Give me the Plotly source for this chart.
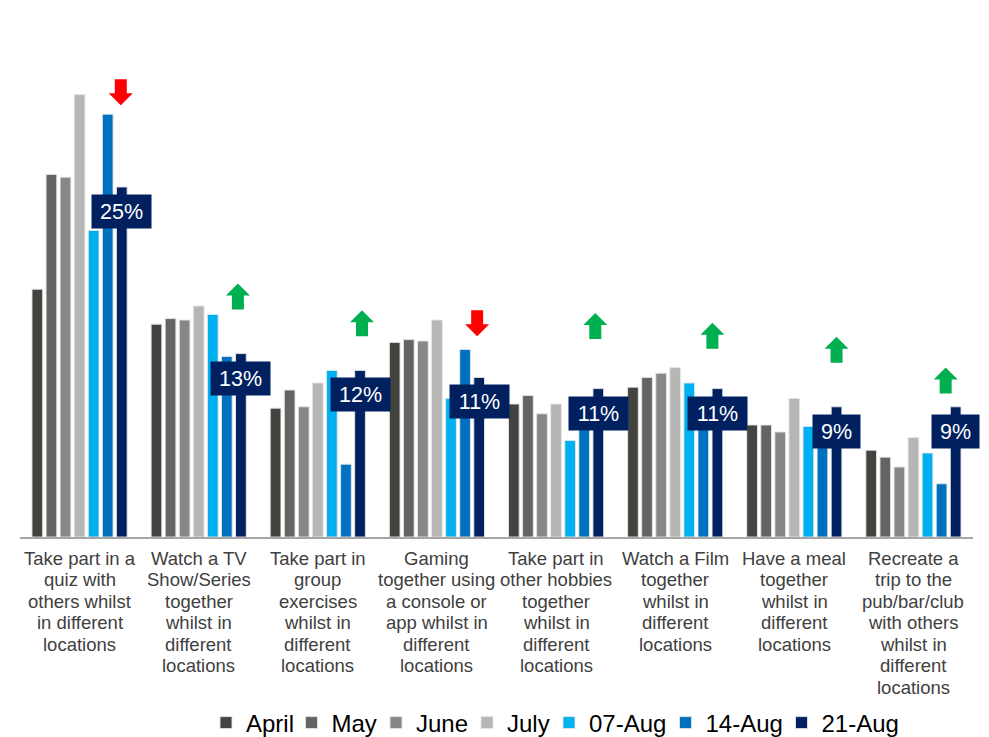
import plotly.graph_objects as go

categories = [
    "Take part in a quiz with others whilst in different locations",
    "Watch a TV Show/Series together whilst in different locations",
    "Take part in group exercises whilst in different locations",
    "Gaming together using a console or app whilst in different locations",
    "Take part in other hobbies together whilst in different locations",
    "Watch a Film together whilst in different locations",
    "Have a meal together whilst in different locations",
    "Recreate a trip to the pub/bar/club with others whilst in different locations",
]
tick_labels = [
    ["Take part in a", "quiz with", "others whilst", "in different", "locations"],
    ["Watch a TV", "Show/Series", "together", "whilst in", "different", "locations"],
    ["Take part in", "group", "exercises", "whilst in", "different", "locations"],
    ["Gaming", "together using", "a console or", "app whilst in", "different", "locations"],
    ["Take part in", "other hobbies", "together", "whilst in", "different", "locations"],
    ["Watch a Film", "together", "whilst in", "different", "locations"],
    ["Have a meal", "together", "whilst in", "different", "locations"],
    ["Recreate a", "trip to the", "pub/bar/club", "with others", "whilst in", "different", "locations"],
]
series_names = ["April", "May", "June", "July", "07-Aug", "14-Aug", "21-Aug"]
april = [17.7, 15.2, 9.2, 13.9, 9.5, 10.7, 8.0, 6.2]
may = [25.9, 15.6, 10.5, 14.1, 10.1, 11.4, 8.0, 5.7]
june = [25.7, 15.5, 9.3, 14.0, 8.8, 11.7, 7.5, 5.0]
july = [31.6, 16.5, 11.0, 15.5, 9.5, 12.1, 9.9, 7.1]
aug07 = [21.9, 15.9, 11.9, 9.9, 6.9, 11.0, 7.9, 6.0]
aug14 = [30.2, 12.9, 5.2, 13.4, 9.0, 9.5, 8.5, 3.8]
aug21 = [25.0, 13.1, 11.9, 11.4, 10.6, 10.6, 9.3, 9.3]
trend = ["down", "up", "up", "down", "up", "up", "up", "up"]
arrow_top = [32.7, 18.1, 16.2, 16.2, 16.0, 15.3, 14.3, 12.1]

series_values = [april, may, june, july, aug07, aug14, aug21]
colors = ["#434440", "#646464", "#878787", "#B6B6B6", "#00B0F0", "#0070C0", "#002060"]

W, H = 989, 737
ML, MR, MT, MB = 20, 16, 47, 200
PW = W - ML - MR
PH = H - MT - MB

BARGAP = 0.173
BARGROUPGAP = 0.24
FONT = "Liberation Sans, Arial, sans-serif"

# legend square centres (px) for each series, one small legend per series
legend_px = [226, 311.5, 396, 487, 569, 685.5, 801.5]
legend_center_y = 723

fig = go.Figure()
for k, (name, vals, col) in enumerate(zip(series_names, series_values, colors)):
    lg = "legend" if k == 0 else f"legend{k + 1}"
    fig.add_trace(go.Bar(
        x=categories, y=vals, name=name, legend=lg,
        marker=dict(color=col, line=dict(color="rgba(230,230,230,0.9)", width=1)),
    ))

n = len(series_values)
slot = (1 - BARGAP) / n
last_off = -(1 - BARGAP) / 2 + slot * (n - 0.5)

annotations = []
shapes = []
arrow_shift = [-1, -3, 2, -2, -3, -5, 0, -10]
for i, v in enumerate(aug21):
    txt = f"{round(v)}%"
    annotations.append(dict(
        x=i + last_off, y=v, xref="x", yref="y",
        text=txt, showarrow=False, yanchor="top", yshift=-7,
        bgcolor="#002060", borderpad=5, width=12 * len(txt) + 13, height=23,
        font=dict(color="white", size=21.5, family=FONT),
    ))
    if trend[i] == "up":
        pts = [(0, 0), (12, -12), (6, -12), (6, -26), (-6, -26), (-6, -12), (-12, -12)]
        col = "#00B050"
    else:
        pts = [(-6, 0), (6, 0), (6, -14), (12, -14), (0, -26), (-12, -14), (-6, -14)]
        col = "#FF0000"
    path = "M " + " L ".join(f"{px + arrow_shift[i]} {py}" for px, py in pts) + " Z"
    shapes.append(dict(
        type="path", xref="x", yref="y",
        xsizemode="pixel", ysizemode="pixel",
        xanchor=i + last_off, yanchor=arrow_top[i],
        path=path, fillcolor=col, line=dict(width=0),
    ))

# category labels, one line at a time (tight line spacing like the original)
for i, lines in enumerate(tick_labels):
    for j, line in enumerate(lines):
        annotations.append(dict(
            x=i, y=0, xref="x", yref="paper", text=line, showarrow=False,
            yanchor="middle", xanchor="center", yshift=-(21 + j * 21.5),
            font=dict(size=18.5, color="#404040", family=FONT),
        ))

legend_layouts = {}
for k in range(n):
    key = "legend" if k == 0 else f"legend{k + 1}"
    legend_layouts[key] = dict(
        orientation="h",
        x=(legend_px[k] - 20 - ML) / PW, xanchor="left",
        y=(MT + PH - legend_center_y) / PH, yanchor="middle",
        font=dict(size=24, color="#000000", family=FONT),
        itemwidth=30, bgcolor="rgba(0,0,0,0)", borderwidth=0,
    )

fig.update_layout(
    width=W, height=H,
    margin=dict(l=ML, r=MR, t=MT, b=MB, autoexpand=False),
    paper_bgcolor="white", plot_bgcolor="white",
    barmode="group", bargap=BARGAP, bargroupgap=BARGROUPGAP,
    font=dict(family=FONT, color="#404040"),
    xaxis=dict(
        showticklabels=False, automargin=False,
        range=[-0.5, len(categories) - 0.5], autorange=False,
        showline=True, linecolor="#A6A6A6", linewidth=2,
        showgrid=False, ticks="",
    ),
    yaxis=dict(range=[0, 35], visible=False, showgrid=False, zeroline=False,
               automargin=False),
    annotations=annotations, shapes=shapes,
    showlegend=True,
    **legend_layouts,
)
fig.write_html(
    "out.html",
    config={"displayModeBar": False},
    post_script="document.body.style.margin='0';document.body.style.overflow='hidden';",
)
